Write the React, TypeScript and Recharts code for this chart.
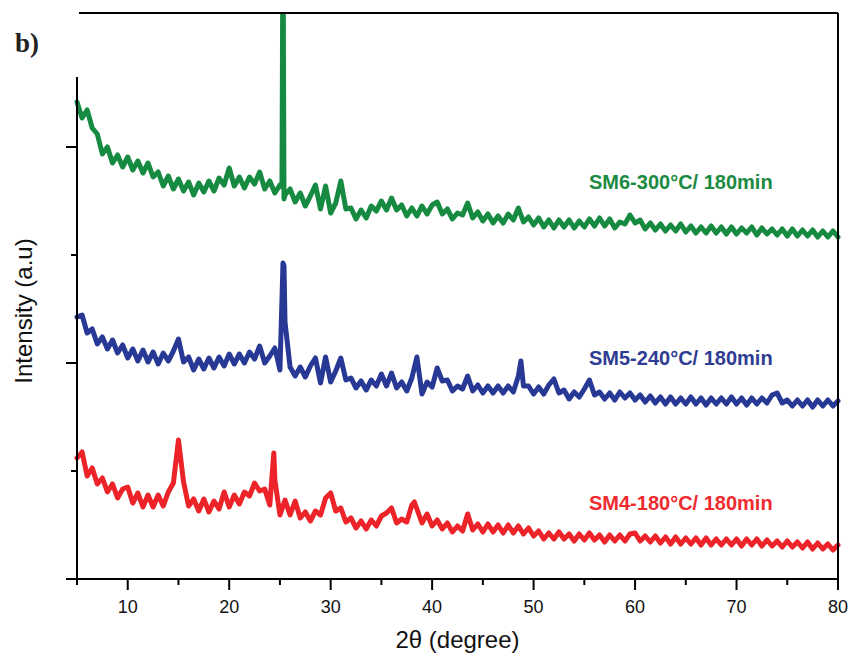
import { LineChart, Line, XAxis, YAxis, ReferenceLine } from "recharts";

// XRD scans, 2θ from 5° to 80°, 0.5° step (arbitrary units)
const SCAN_START = 5;
const SCAN_STEP = 0.5;

const sm6Counts = [
  477, 461, 469, 451, 445, 425, 432, 416, 424, 412, // 5.0 - 9.5
  422, 409, 418, 406, 416, 402, 407, 393, 403, 390, // 10 - 14.5
  400, 388, 397, 384, 396, 387, 398, 388, 401, 394, // 15 - 19.5
  411, 393, 402, 391, 402, 395, 407, 390, 398, 386, // 20 - 24.5
  394, 384, 390, 377, 386, 373, 383, 394, 370, 393, // 25 - 29.5
  366, 376, 398, 370, 371, 360, 369, 361, 373, 368, // 30 - 34.5
  378, 369, 381, 369, 374, 363, 371, 363, 373, 365, // 35 - 39.5
  374, 377, 365, 370, 360, 366, 364, 376, 361, 367, // 40 - 44.5
  358, 365, 356, 363, 356, 365, 359, 371, 357, 362, // 45 - 49.5
  354, 361, 352, 359, 351, 359, 352, 359, 351, 358, // 50 - 54.5
  352, 360, 353, 361, 353, 360, 351, 357, 355, 364, // 55 - 59.5
  356, 359, 350, 356, 349, 355, 348, 354, 348, 355, // 60 - 64.5
  347, 353, 346, 352, 346, 353, 346, 352, 345, 352, // 65 - 69.5
  345, 351, 346, 352, 344, 351, 345, 350, 344, 350, // 70 - 74.5
  343, 350, 343, 349, 343, 349, 342, 348, 342, 348, // 75 - 79.5
  342,
];

const sm5Counts = [
  262, 264, 246, 250, 235, 242, 230, 239, 226, 234,
  221, 230, 218, 229, 217, 227, 215, 226, 218, 228,
  240, 217, 222, 209, 220, 210, 221, 211, 222, 213,
  225, 215, 225, 216, 227, 220, 233, 216, 223, 231,
  209, 257, 212, 203, 212, 202, 213, 221, 196, 222,
  197, 208, 221, 199, 201, 191, 198, 189, 199, 193,
  205, 193, 206, 191, 197, 188, 201, 222, 185, 197,
  192, 211, 198, 199, 188, 193, 190, 203, 188, 194,
  186, 193, 186, 193, 186, 193, 187, 203, 193, 193,
  185, 192, 185, 194, 200, 186, 189, 180, 187, 182,
  190, 199, 184, 187, 180, 186, 179, 187, 181, 186,
  179, 184, 177, 183, 176, 182, 175, 182, 175, 181,
  175, 182, 175, 181, 174, 181, 175, 181, 175, 182,
  175, 181, 174, 181, 175, 181, 176, 184, 186, 176,
  179, 173, 179, 173, 179, 172, 179, 173, 179, 173,
  178,
];

const sm4Counts = [
  121, 127, 103, 111, 95, 101, 87, 95, 81, 90,
  92, 76, 86, 72, 84, 72, 84, 73, 87, 96,
  139, 97, 73, 80, 68, 80, 67, 78, 70, 87,
  72, 84, 75, 87, 83, 96, 88, 90, 74, 99,
  64, 79, 64, 78, 61, 67, 58, 68, 64, 81,
  86, 68, 71, 57, 61, 51, 58, 50, 59, 53,
  63, 66, 71, 56, 60, 57, 74, 70, 56, 65,
  53, 59, 50, 56, 47, 53, 48, 65, 49, 55,
  47, 55, 47, 54, 46, 54, 46, 53, 45, 51,
  43, 48, 40, 46, 40, 47, 40, 45, 38, 45,
  39, 46, 39, 44, 37, 44, 38, 44, 38, 45,
  46, 38, 43, 37, 43, 36, 42, 35, 42, 35,
  41, 35, 41, 34, 41, 34, 40, 34, 40, 34,
  40, 33, 40, 34, 40, 33, 39, 33, 38, 32,
  38, 32, 37, 31, 37, 30, 36, 30, 35, 29,
  34,
];

// narrow reflections sampled finer than the scan step: [2θ, counts]
const sm6Sharp: [number, number][] = [[25.2, 392], [25.3, 660], [25.4, 380]];
const sm5Sharp: [number, number][] = [[25.2, 279], [25.3, 316], [25.4, 313], [48.75, 218]];
const sm4Sharp: [number, number][] = [[24.4, 126], [38.25, 77]];

const angleTicks = [5, 10, 15, 20, 25, 30, 35, 40, 45, 50, 55, 60, 65, 70, 75, 80];
const intensityTicks = [0, 108, 216, 324, 432, 540];

const toScan = (counts: number[], sharp: [number, number][]) =>
  counts
    .map((c, i) => ({ angle: SCAN_START + i * SCAN_STEP, intensity: c }))
    .concat(sharp.map(([a, c]) => ({ angle: a, intensity: c })))
    .sort((p, q) => p.angle - q.angle);

const series = [
  { key: "sm6", name: "SM6-300°C/ 180min", color: "#178a41", text: "#1b8a42", data: toScan(sm6Counts, sm6Sharp), labelY: 189 },
  { key: "sm5", name: "SM5-240°C/ 180min", color: "#283895", text: "#2f3c93", data: toScan(sm5Counts, sm5Sharp), labelY: 365 },
  { key: "sm4", name: "SM4-180°C/ 180min", color: "#ec2328", text: "#ee2b2f", data: toScan(sm4Counts, sm4Sharp), labelY: 510 },
];

const FONT = '"Liberation Sans", Arial, sans-serif';

function AngleTick({ x, y, payload }: any) {
  const major = payload.value % 10 === 0;
  return (
    <g>
      <line x1={x} y1={y} x2={x} y2={y + (major ? 11 : 6)} stroke="#000" strokeWidth={2} />
      {major && (
        <text x={x} y={y + 34} textAnchor="middle" fontSize={18} fontFamily={FONT} fill="#111">
          {payload.value}
        </text>
      )}
    </g>
  );
}

function IntensityTick({ x, y, payload }: any) {
  const major = payload.value % 216 === 0;
  return <line x1={x} y1={y} x2={x - (major ? 11 : 6)} y2={y} stroke="#000" strokeWidth={2} />;
}

export default function App() {
  return (
    <div style={{ position: "absolute", left: 0, top: 0, width: 854, height: 666, background: "#fff" }}>
      <LineChart width={854} height={666} margin={{ top: 13, right: 16, bottom: 0, left: 0 }}>
        <XAxis
          dataKey="angle" type="number" domain={[5, 80]} ticks={angleTicks}
          height={87} tickSize={0} tickMargin={0} tickLine={false} tick={AngleTick}
          axisLine={{ stroke: "#000", strokeWidth: 2 }}
          label={{ value: "2θ (degree)", position: "insideBottom", offset: 18, fontSize: 24, fill: "#111", fontFamily: FONT }}
        />
        <YAxis
          type="number" domain={[0, 566]} allowDataOverflow ticks={intensityTicks}
          width={77} tickSize={0} tickMargin={0} tickLine={false} tick={IntensityTick}
          axisLine={{ stroke: "#000", strokeWidth: 2 }}
        />
        {series.map((s) => (
          <Line
            key={s.key} data={s.data} dataKey="intensity" name={s.name}
            stroke={s.color} strokeWidth={5} strokeLinejoin="round" strokeLinecap="round" dot={false}
            isAnimationActive={false}
          />
        ))}
        {/* closed frame: top and right edges */}
        <ReferenceLine y={566} stroke="#000" strokeWidth={2} />
        <ReferenceLine x={80} stroke="#000" strokeWidth={2} />
      </LineChart>

      {/* panel letter, y title and sample labels */}
      <svg width={854} height={666} style={{ position: "absolute", left: 0, top: 0, pointerEvents: "none" }}>
        <rect x={0} y={0} width={79} height={77} fill="#fff" />
        <text x={15} y={52} fontSize={27} fontWeight="bold" fontFamily='"Liberation Serif", "Times New Roman", serif' fill="#222">
          b)
        </text>
        <text
          x={32} y={311} transform="rotate(-90 32 311)" textAnchor="middle"
          fontSize={24} fontFamily={FONT} fill="#111"
        >
          Intensity (a.u)
        </text>
        {series.map((s) => (
          <text key={s.key} x={589} y={s.labelY} fontSize={20} fontWeight="bold" fontFamily={FONT} fill={s.text}>
            {s.name}
          </text>
        ))}
      </svg>
    </div>
  );
}
